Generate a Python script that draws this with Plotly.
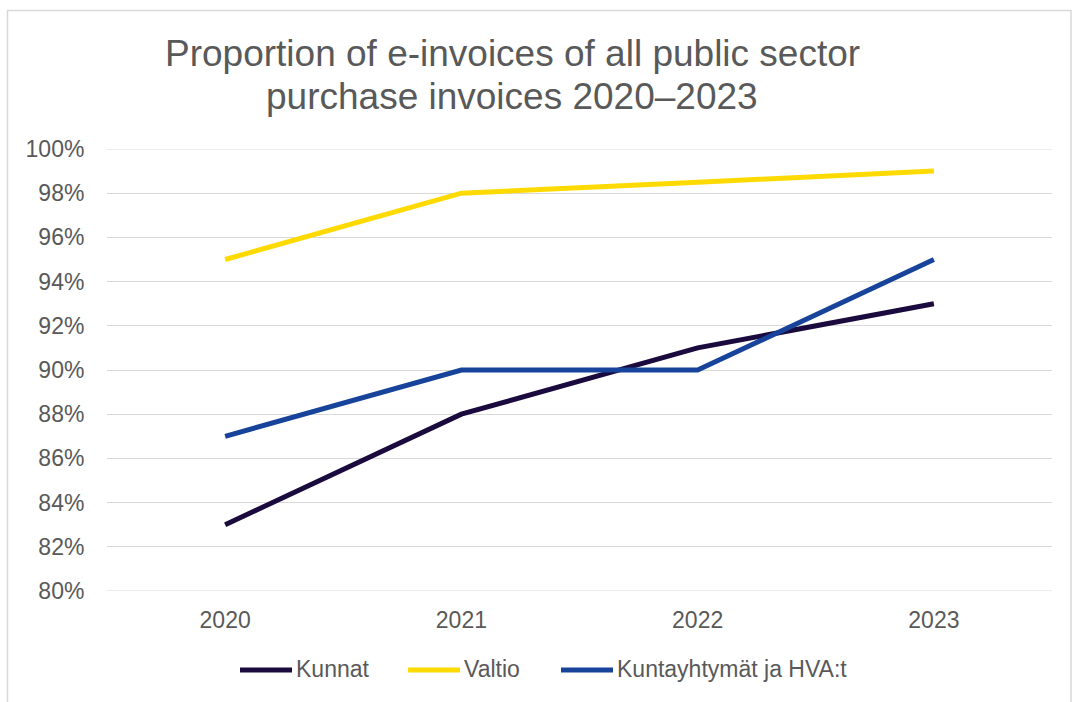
import plotly.graph_objects as go

years = ["2020", "2021", "2022", "2023"]
kunnat = [83, 88, 91, 93]
valtio = [95, 98, 98.5, 99]
kuntayhtymat = [87, 90, 90, 95]

series = [
    ("Kunnat", kunnat, "#1B0A3D"),
    ("Valtio", valtio, "#FFDA00"),
    ("Kuntayhtymät ja HVA:t", kuntayhtymat, "#17449A"),
]

Y_MIN, Y_MAX, Y_STEP = 80, 100, 2

FONT = "Liberation Sans, Arial, sans-serif"
GREY = "#595959"
GRID = "#D9D9D9"

W, H = 1072, 702
L, R, T, B = 107, 20, 149, 111
pw, ph = W - L - R, H - T - B


def px_x(x):
    return (x - L) / pw


def px_y(y):
    return (H - B - y) / ph


fig = go.Figure()
for name, vals, color in series:
    fig.add_trace(go.Scatter(
        x=years, y=vals, name=name, mode="lines",
        line=dict(color=color, width=5),
    ))

fig.update_layout(
    width=W, height=H,
    margin=dict(l=L, r=R, t=T, b=B, autoexpand=False),
    paper_bgcolor="white", plot_bgcolor="white",
    font=dict(family=FONT, color=GREY, size=23),
    showlegend=False,
    xaxis=dict(
        type="category", range=[-0.5, 3.5],
        showgrid=False, zeroline=False, showline=False,
        ticks="outside", ticklen=8, tickcolor="rgba(0,0,0,0)",
        tickfont=dict(size=23, color=GREY),
    ),
    yaxis=dict(
        range=[Y_MIN, Y_MAX], dtick=Y_STEP, tick0=Y_MIN, ticksuffix="%",
        showgrid=True, gridcolor=GRID, gridwidth=1,
        zeroline=False, showline=False,
        ticks="outside", ticklen=17, tickcolor="rgba(0,0,0,0)",
        tickfont=dict(size=23, color=GREY),
    ),
)

# Gridlines on the two range edges (not drawn by the axis itself)
for yv in (Y_MIN, Y_MAX):
    fig.add_shape(
        type="line", xref="paper", yref="y", x0=0, x1=1, y0=yv, y1=yv,
        line=dict(color=GRID, width=1), layer="below",
    )

# Chart frame
fig.add_shape(
    type="rect", xref="paper", yref="paper",
    x0=px_x(7.5), x1=px_x(1071), y0=px_y(720), y1=px_y(10.5),
    line=dict(color=GRID, width=1.5), fillcolor="rgba(0,0,0,0)", layer="below",
)

# Title, two centred lines
title_lines = ["Proportion of e-invoices of all public sector",
               "purchase invoices 2020–2023"]
for i, line in enumerate(title_lines):
    fig.add_annotation(
        text=line, xref="paper", yref="paper",
        x=px_x(512), y=px_y(53 + 43 * i), xanchor="center", yanchor="middle",
        showarrow=False, font=dict(family=FONT, size=37, color=GREY),
    )

# Legend row under the plot: line swatch followed by the series name
legend_left = [238, 406, 559]
for (name, _, color), x0 in zip(series, legend_left):
    fig.add_shape(
        type="line", xref="paper", yref="paper",
        x0=px_x(x0 + 2), x1=px_x(x0 + 54), y0=px_y(670), y1=px_y(670),
        line=dict(color=color, width=5),
    )
    fig.add_annotation(
        text=name, xref="paper", yref="paper",
        x=px_x(x0 + 56), y=px_y(669), xanchor="left", yanchor="middle",
        showarrow=False, font=dict(family=FONT, size=23, color=GREY),
    )

fig.write_html("out.html")
